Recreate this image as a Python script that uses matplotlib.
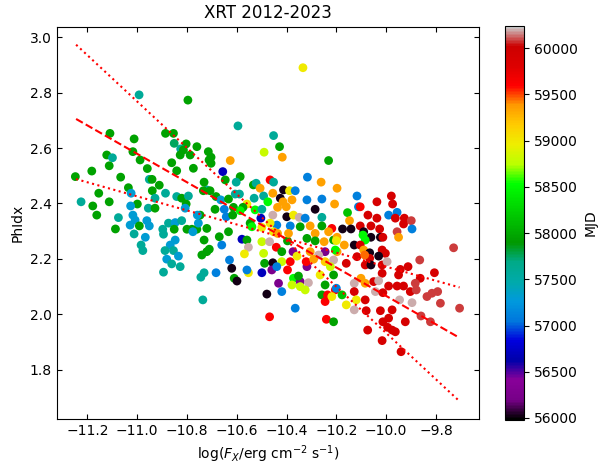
import numpy as np
import matplotlib
matplotlib.use("Agg")
import matplotlib.pyplot as plt

# MJD colour codes
B, P, DB, BL, LB, T, TG, G, MG, BG, YG, Y, GO, O, OR, R, DR, RG, GR = (
    56020, 56250, 56700, 57100, 57300, 57580, 57750, 57950, 58150, 58500,
    58800, 58980, 59150, 59350, 59450, 59620, 59900, 60080, 60200)

logfx = [
    -10.992, -10.796, -10.334,
    -11.109, -11.012, -10.886, -10.854, -10.851, -10.803, -10.760, -10.825, -10.814, -10.827,
    -10.787, -10.714, -11.122, -11.099, -11.017, -10.988, -11.112, -10.959, -10.861, -10.841,
    -10.774, -10.711, -11.248, -11.182, -11.066, -10.951, -10.940, -10.911, -11.035, -11.024,
    -10.939, -10.886, -11.154, -11.112, -11.225, -11.178, -10.841, -10.821, -10.794, -10.803,
    -10.999, -11.026, -10.928, -10.955, -10.928, -10.807, -10.720,
    -11.162, -11.075, -11.087, -11.017, -11.008, -11.028, -10.991, -10.961, -10.951, -11.012,
    -10.967, -10.984, -10.977, -10.897, -10.894, -10.874, -10.847, -10.821, -10.851, -10.800,
    -10.780, -10.760, -10.776, -10.754, -10.720, -10.747, -10.758, -10.847, -10.867, -10.888,
    -10.854, -10.834, -10.881, -10.861, -10.827, -10.894, -10.731, -10.740, -10.720, -10.710,
    -10.731, -10.744, -10.736,
    -10.595, -10.452, -10.428, -10.490, -10.417, -10.626, -10.703, -10.703, -10.231, -10.656,
    -10.586, -10.646, -10.731, -10.602, -10.466, -10.452, -10.316, -10.261, -10.197, -10.533,
    -10.522, -10.506, -10.455, -10.412, -10.388, -10.365, -10.734, -10.707, -10.683, -10.664,
    -10.633, -10.606, -10.589, -10.530, -10.492, -10.475, -10.425, -10.414, -10.378, -10.436,
    -10.401, -10.318, -10.258, -10.285, -10.207, -10.559, -10.575, -10.613, -10.650, -10.687,
    -10.642, -10.616, -10.586, -10.526, -10.499, -10.455, -10.399, -10.372, -10.349, -10.325,
    -10.305, -10.258, -10.258, -10.503, -10.546, -10.539, -10.499, -10.439, -10.385, -10.218,
    -10.670, -10.633, -10.660, -10.683, -10.629, -10.620, -10.610, -10.599, -10.579, -10.559,
    -10.499, -10.553, -10.569, -10.492, -10.553, -10.559, -10.499, -10.488, -10.466, -10.452,
    -10.468, -10.441, -10.455, -10.459, -10.419, -10.439, -10.385, -10.396, -10.432, -10.419,
    -10.479, -10.372, -10.378, -10.345, -10.345, -10.352, -10.312, -10.325, -10.318, -10.321,
    -10.419, -10.396, -10.374, -10.358, -10.392, -10.345, -10.285, -10.318, -10.285, -10.249,
    -10.231, -10.211, -10.245, -10.271, -10.291, -10.245, -10.211, -10.224, -10.197, -10.265,
    -10.211, -10.245, -10.258, -10.204, -10.235, -10.245, -10.365, -10.468, -10.240, -10.211,
    -10.436, -10.305,
    -10.117, -10.111, -10.104, -10.037, -9.979, -9.974, -10.155, -10.147, -10.073, -10.037,
    -9.990, -9.956, -9.963, -9.927, -9.899, -9.930, -9.896, -9.956, -9.950, -10.175,
    -10.141, -10.104, -10.061, -10.026, -10.090, -10.061, -10.023, -10.013, -10.093, -10.084,
    -10.197, -10.200, -10.168, -10.128, -10.104, -10.204, -10.090, -10.066, -10.016, -10.003,
    -10.030, -9.729, -9.865, -10.117, -10.066,
    -10.160, -10.086, -10.084, -10.061, -10.016, -9.996, -10.016, -9.943, -9.912, -9.950,
    -9.863, -9.806, -10.101, -10.128, -10.084, -10.050, -10.030, -9.990, -9.956, -9.930,
    -9.903, -9.883, -9.879, -10.043, -10.013, -10.200, -10.218, -10.177, -10.128, -10.120,
    -10.160, -10.128, -10.084, -10.080, -10.023, -9.976, -9.946, -9.896, -9.836, -9.816,
    -9.793, -9.782, -9.705, -9.860, -9.822, -10.013, -9.990, -9.923, -9.994, -9.976,
    -9.963, -10.016, -9.940, -10.074,
]

phidx = [
    2.792, 2.773, 2.890,
    2.653, 2.633, 2.653, 2.653, 2.617, 2.615, 2.605, 2.597, 2.593, 2.575,
    2.575, 2.587, 2.575, 2.565, 2.587, 2.557, 2.536, 2.526, 2.547, 2.518,
    2.527, 2.557, 2.497, 2.517, 2.495, 2.487, 2.487, 2.466, 2.457, 2.437,
    2.446, 2.437, 2.437, 2.406, 2.406, 2.391, 2.425, 2.419, 2.427, 2.398,
    2.398, 2.391, 2.419, 2.383, 2.383, 2.383, 2.449,
    2.358, 2.349, 2.308, 2.358, 2.340, 2.322, 2.319, 2.338, 2.319, 2.290,
    2.278, 2.250, 2.230, 2.307, 2.289, 2.329, 2.331, 2.338, 2.307, 2.307,
    2.307, 2.307, 2.298, 2.329, 2.310, 2.358, 2.358, 2.268, 2.250, 2.230,
    2.230, 2.210, 2.199, 2.182, 2.172, 2.152, 2.268, 2.214, 2.226, 2.235,
    2.150, 2.134, 2.052,
    2.680, 2.645, 2.605, 2.585, 2.567, 2.555, 2.567, 2.545, 2.555, 2.515,
    2.497, 2.485, 2.477, 2.477, 2.485, 2.477, 2.495, 2.477, 2.455, 2.467,
    2.473, 2.455, 2.437, 2.449, 2.446, 2.446, 2.446, 2.446, 2.425, 2.413,
    2.416, 2.434, 2.434, 2.419, 2.427, 2.406, 2.419, 2.406, 2.413, 2.386,
    2.388, 2.413, 2.416, 2.379, 2.398, 2.398, 2.386, 2.386, 2.379, 2.379,
    2.352, 2.358, 2.374, 2.377, 2.379, 2.358, 2.352, 2.358, 2.350, 2.347,
    2.319, 2.350, 2.319, 2.347, 2.329, 2.316, 2.314, 2.322, 2.319, 2.310,
    2.280, 2.298, 2.250, 2.150, 2.196, 2.166, 2.130, 2.120, 2.271, 2.268,
    2.262, 2.242, 2.218, 2.220, 2.150, 2.160, 2.150, 2.184, 2.329, 2.298,
    2.262, 2.242, 2.186, 2.160, 2.190, 2.172, 2.190, 2.160, 2.112, 2.082,
    2.073, 2.130, 2.106, 2.118, 2.100, 2.138, 2.114, 2.088, 2.172, 2.190,
    2.226, 2.265, 2.226, 2.210, 2.292, 2.316, 2.292, 2.274, 2.265, 2.262,
    2.298, 2.268, 2.226, 2.214, 2.199, 2.190, 2.196, 2.172, 2.226, 2.142,
    2.142, 2.106, 2.070, 2.088, 2.070, 2.046, 2.022, 1.991, 1.982, 1.973,
    2.292, 2.226,
    2.427, 2.388, 2.388, 2.406, 2.427, 2.398, 2.367, 2.338, 2.358, 2.347,
    2.358, 2.368, 2.347, 2.347, 2.338, 2.326, 2.308, 2.298, 2.278, 2.308,
    2.308, 2.319, 2.319, 2.308, 2.298, 2.278, 2.278, 2.278, 2.286, 2.268,
    2.278, 2.266, 2.250, 2.250, 2.250, 2.232, 2.232, 2.222, 2.232, 2.220,
    2.210, 2.240, 2.196, 2.208, 2.202,
    2.184, 2.214, 2.178, 2.178, 2.178, 2.190, 2.148, 2.162, 2.172, 2.142,
    2.130, 2.150, 2.130, 2.112, 2.112, 2.118, 2.121, 2.102, 2.102, 2.102,
    2.082, 2.112, 2.088, 2.082, 2.078, 2.094, 2.064, 2.070, 2.082, 2.052,
    2.034, 2.016, 2.052, 2.013, 2.013, 2.016, 2.052, 2.042, 2.064, 2.076,
    2.082, 2.040, 2.022, 1.994, 1.973, 1.973, 1.986, 1.973, 1.953, 1.943,
    1.937, 1.905, 1.865, 1.943,
]

mjd = [
    T, G, Y,
    G, G, G, G, TG, G, G, T, G, G,
    G, G, G, T, G, G, G, G, G, G,
    G, G, G, G, G, T, G, G, G, LB,
    G, T, G, G, T, G, T, G, T, G,
    G, LB, T, T, G, LB, T,
    G, T, G, LB, LB, LB, G, LB, LB, T,
    LB, T, T, T, T, T, LB, T, G, G,
    G, G, LB, LB, G, G, LB, LB, LB, T,
    T, LB, LB, T, T, T, G, G, G, G,
    T, T, T,
    T, T, G, YG, O, O, G, G, G, DB,
    G, G, G, T, R, T, BL, O, O, G,
    T, O, O, B, Y, BL, G, G, G, LB,
    G, T, T, T, T, BG, B, O, O, O,
    O, BL, BL, B, O, Y, G, G, BL, G,
    BL, G, BG, BG, T, GR, B, Y, GR, BL,
    O, T, G, DB, G, BG, Y, BL, BL, R,
    G, G, BL, BL, BL, B, G, B, DB, G,
    YG, GR, Y, YG, Y, BL, DB, G, Y, Y,
    GR, R, B, P, YG, BL, R, R, P, BL,
    B, BG, YG, P, YG, G, GR, YG, P, R,
    G, G, P, Y, O, G, O, G, G, O,
    O, G, P, GR, O, GO, GR, YG, O, Y,
    G, G, G, R, R, R, BL, R, R, G,
    O, O,
    BL, BL, R, DR, DR, DR, MG, O, DR, DR,
    BL, BL, DR, DR, RG, DR, BL, RG, O, B,
    B, DR, DR, DR, B, B, B, DR, BG, BG,
    O, Y, O, B, DR, BG, O, B, DR, DR,
    B, RG, RG, DR, DR,
    DR, OR, DR, B, DR, GR, DR, DR, DR, DR,
    DR, DR, O, GR, O, DR, GR, DR, DR, DR,
    DR, RG, RG, GR, DR, BL, Y, MG, DR, Y,
    Y, GR, DR, DR, DR, DR, GR, GR, RG, RG,
    RG, RG, RG, RG, RG, DR, DR, DR, DR, DR,
    DR, DR, DR, DR,
]

# fit lines (best fit and +/- slope bounds)
fit_x = [-11.245, -9.705]
fit_best = [2.705, 1.915]
fit_upper = [2.973, 1.686]
fit_lower = [2.488, 2.097]

mjd_min, mjd_max = 55978, 60241
cbar_ticks = [56000, 56500, 57000, 57500, 58000, 58500, 59000, 59500, 60000]

plt.rcParams['font.size'] = 10
fig = plt.figure(figsize=(6.01, 4.66), dpi=100)
ax = fig.add_axes([0.0943, 0.1002, 0.7027, 0.8425])
cax = fig.add_axes([0.8403, 0.0987, 0.0321, 0.8455])

sc = ax.scatter(logfx, phidx, c=mjd, cmap='nipy_spectral', vmin=mjd_min, vmax=mjd_max,
                s=40, linewidths=0)
ax.plot(fit_x, fit_best, color='red', ls='--', lw=1.5)
ax.plot(fit_x, fit_upper, color='red', ls=':', lw=1.5)
ax.plot(fit_x, fit_lower, color='red', ls=':', lw=1.5)

ax.set_xlim(-11.323, -9.627)
ax.set_ylim(1.621, 3.038)
ax.set_xticks([-11.2, -11.0, -10.8, -10.6, -10.4, -10.2, -10.0, -9.8])
ax.set_yticks([1.8, 2.0, 2.2, 2.4, 2.6, 2.8, 3.0])
ax.tick_params(direction='in', top=True, right=True)
ax.set_title('XRT 2012-2023', fontsize=12)
ax.set_xlabel(r'log($F_X$/erg cm$^{-2}$ s$^{-1}$)')
ax.set_ylabel('PhIdx')

cb = fig.colorbar(sc, cax=cax)
cb.set_ticks(cbar_ticks)
cb.set_label('MJD')

fig.savefig('out.png', dpi=100)
